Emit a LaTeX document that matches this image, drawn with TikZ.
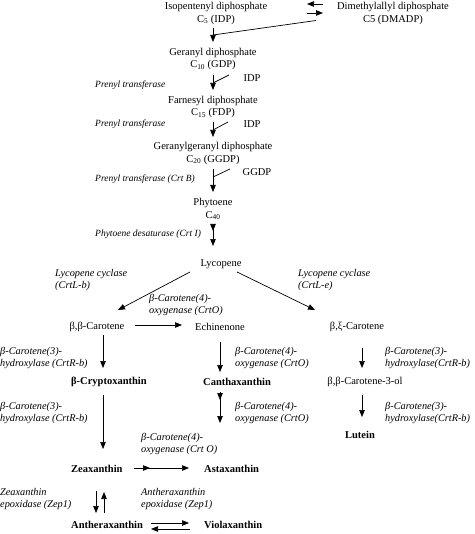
\documentclass[tikz,border=0pt]{standalone}
\usepackage{fontspec}
\setmainfont{Liberation Serif}
\usetikzlibrary{arrows.meta}
\tikzset{
  cpd/.style={inner sep=0pt, align=center, font=\fontsize{10.5}{12.5}\selectfont},
  bcpd/.style={inner sep=0pt, font=\fontsize{10.5}{12.5}\selectfont\bfseries},
  lab/.style={inner sep=0pt, align=left, anchor=west, font=\fontsize{10.3}{12}\selectfont\itshape},
  slab/.style={lab, font=\fontsize{9.5}{12}\selectfont\itshape},
  arr/.style={line width=0.7pt, -{Triangle[length=7pt,width=5.5pt]}},
  ln/.style={line width=0.7pt}
}
\begin{document}
\begin{tikzpicture}[x=1pt,y=-1pt]
\useasboundingbox (0,0) rectangle (474,534);
% compounds
\node[cpd] (ipp) at (216,13.5) {Isopentenyl diphosphate\\C\textsubscript{5} (IDP)};
\node[cpd] (dmadp) at (393,13.5) {Dimethylallyl diphosphate\\C5 (DMADP)};
\node[cpd] (gdp) at (213,59) {Geranyl diphosphate\\C\textsubscript{10} (GDP)};
\node[cpd] (fdp) at (213,107) {Farnesyl diphosphate\\C\textsubscript{15} (FDP)};
\node[cpd] (ggdp) at (213,153.5) {Geranylgeranyl diphosphate\\C\textsubscript{20} (GGDP)};
\node[cpd] (phyt) at (213,209) {Phytoene\\C\textsubscript{40}};
\node[cpd] (lyc) at (221,264) {Lycopene};
\node[cpd] (bbcar) at (97,327) {β,β-Carotene};
\node[cpd] (echi) at (220,327) {Echinenone};
\node[cpd] (bxcar) at (357,327) {β,ξ-Carotene};
\node[bcpd, anchor=west] (crypt) at (71,382) {β-Cryptoxanthin};
\node[bcpd, anchor=west] (cantha) at (203,382) {Canthaxanthin};
\node[cpd] (bb3ol) at (365,382) {β,β-Carotene-3-ol};
\node[bcpd] (lutein) at (360,435) {Lutein};
\node[bcpd, anchor=west] (zea) at (71,469) {Zeaxanthin};
\node[bcpd, anchor=west] (asta) at (204,469) {Astaxanthin};
\node[bcpd, anchor=west] (anth) at (71,525) {Antheraxanthin};
\node[bcpd, anchor=west] (viol) at (204,525) {Violaxanthin};
% substrates
\node[cpd] (idp1) at (252,78) {IDP};
\node[cpd] (idp2) at (252,124) {IDP};
\node[cpd] (ggdpl) at (257,172) {GGDP};
% enzymes
\node[slab] (pt1) at (95,85) {Prenyl transferase};
\node[slab] (pt2) at (95,124) {Prenyl transferase};
\node[slab] (pt3) at (95,179) {Prenyl transferase (Crt B)};
\node[slab] (pd) at (95,234) {Phytoene desaturase (Crt I)};
\node[lab] (lcb) at (55,280) {Lycopene cyclase\\(CrtL-b)};
\node[lab] (lce) at (298,280) {Lycopene cyclase\\(CrtL-e)};
\node[lab] (o1) at (149,305) {β-Carotene(4)-\\oxygenase (CrtO)};
\node[lab] (h1) at (0,358) {β-Carotene(3)-\\hydroxylase (CrtR-b)};
\node[lab] (o2) at (235,358) {β-Carotene(4)-\\oxygenase (CrtO)};
\node[lab] (h2) at (385,358) {β-Carotene(3)-\\hydroxylase(CrtR-b)};
\node[lab] (h3) at (0,413) {β-Carotene(3)-\\hydroxylase (CrtR-b)};
\node[lab] (o3) at (235,413) {β-Carotene(4)-\\oxygenase (CrtO)};
\node[lab] (h4) at (385,413) {β-Carotene(3)-\\hydroxylase(CrtR-b)};
\node[lab] (o4) at (141,444) {β-Carotene(4)-\\oxygenase (Crt O)};
\node[lab] (ze) at (0,499) {Zeaxanthin\\epoxidase (Zep1)};
\node[lab] (ae) at (141,499) {Antheraxanthin\\epoxidase (Zep1)};
% connectors
\draw[arr] ([shift={(-70,-9.5)}]dmadp.center) -- ([shift={(91,-9.5)}]ipp.center);
\draw[arr] ([shift={(91,-0.5)}]ipp.center) -- ([shift={(-70,-0.5)}]dmadp.center);
\draw[ln] ([shift={(-77,7)}]dmadp.center) -- ([shift={(0,-24)}]gdp.center);
\draw[arr] ([shift={(-3,15)}]ipp.center) -- ([shift={(0,-17)}]gdp.center);
\draw[arr] ([shift={(0,16)}]gdp.center) -- ([shift={(0,-17)}]fdp.center);
\draw[ln] ([shift={(-23,-3)}]idp1.center) -- ([shift={(0,-24)}]fdp.center);
\draw[arr] ([shift={(0,15)}]fdp.center) -- ([shift={(0,-16.5)}]ggdp.center);
\draw[ln] ([shift={(-24,-2)}]idp2.center) -- ([shift={(0,-23.5)}]ggdp.center);
\draw[arr] ([shift={(0,15.5)}]ggdp.center) -- ([shift={(0,-17)}]phyt.center);
\draw[ln] ([shift={(-27,-3)}]ggdpl.center) -- ([shift={(0,-32)}]phyt.center);
\draw[arr] ([shift={(0,16)}]phyt.center) -- ([shift={(0,22)}]phyt.center);
\draw[arr] ([shift={(0,16)}]phyt.center) -- ([shift={(-8,-18)}]lyc.center);
\draw[arr] ([shift={(-31,8)}]lyc.center) -- ([shift={(21,-17)}]bbcar.center);
\draw[arr] ([shift={(16,8)}]lyc.center) -- ([shift={(-42,-17)}]bxcar.center);
\draw[arr] ([shift={(38,-2)}]bbcar.center) -- ([shift={(-38,-2)}]echi.center);
\draw[arr] ([shift={(6,8)}]bbcar.center) -- ([shift={(32,-14)}]crypt.west);
\draw[arr] ([shift={(0,15)}]echi.center) -- ([shift={(17,-10)}]cantha.west);
\draw[arr] ([shift={(5,21)}]bxcar.center) -- ([shift={(-3,-14)}]bb3ol.center);
\draw[arr] ([shift={(32,13)}]crypt.west) -- ([shift={(32,-20)}]zea.west);
\draw[arr] ([shift={(17,10)}]cantha.west) -- ([shift={(17,18)}]cantha.west);
\draw[arr] ([shift={(17,10)}]cantha.west) -- ([shift={(16,-46)}]asta.west);
\draw[arr] ([shift={(-3,13)}]bb3ol.center) -- ([shift={(2,-18)}]lutein.center);
\draw[arr] ([shift={(63,-1)}]zea.west) -- ([shift={(79,-1)}]zea.west);
\draw[arr] ([shift={(63,-1)}]zea.west) -- ([shift={(-15,-1)}]asta.west);
\draw[arr] ([shift={(25,22)}]zea.west) -- ([shift={(25,-12)}]anth.west);
\draw[arr] ([shift={(33,-12)}]anth.west) -- ([shift={(33,23)}]zea.west);
\draw[arr] ([shift={(80,-2)}]anth.west) -- ([shift={(-15,-2)}]viol.west);
\draw[arr] ([shift={(-14,4)}]viol.west) -- ([shift={(80,4)}]anth.west);
\end{tikzpicture}
\end{document}
